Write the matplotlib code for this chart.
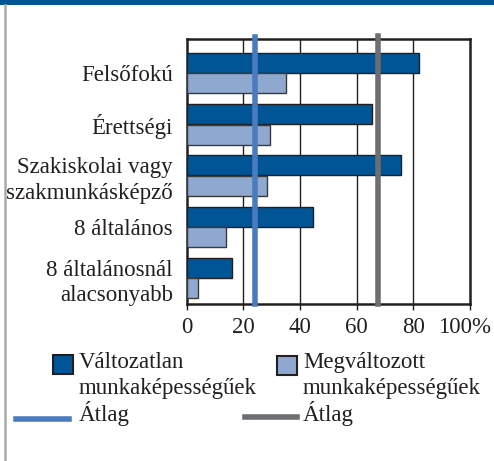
import matplotlib
matplotlib.use('Agg')
import matplotlib.pyplot as plt
from matplotlib.patches import Rectangle
from matplotlib.lines import Line2D
import numpy as np

plt.rcParams['font.family'] = ['Liberation Serif', 'DejaVu Serif']

# Data (percent)
categories = ['Felsőfokú', 'Érettségi', 'Szakiskolai vagy\nszakmunkásképző',
              '8 általános', '8 általánosnál\nalacsonyabb']
valtozatlan = [82, 65.5, 75.5, 44.5, 16]
megvaltozott = [35, 29.5, 28.5, 14, 4]
atlag_valtozatlan = 67.5
atlag_megvaltozott = 24
xticks = [0, 20, 40, 60, 80, 100]
xticklabels = ['0', '20', '40', '60', '80', '100%']

dark = '#005596'
light = '#8fa8cf'
blue_line = '#4a7bbf'
grey_line = '#6d6e71'
txt = '#231f20'

W, H = 494, 461
fs = 16.5
fig = plt.figure(figsize=(W / 100, H / 100), dpi=100)

# frame decorations
fig.add_artist(Rectangle((0, 1 - 5 / H), 1, 5 / H, transform=fig.transFigure,
                         color=dark, lw=0))
fig.add_artist(Line2D([4.5 / W, 4.5 / W], [0, 1 - 5 / H], transform=fig.transFigure,
                      color='#a7a9ac', lw=1.8))

ax = fig.add_axes([186.7 / W, 1 - 304 / H, 283.3 / W, 264.5 / H])
y = np.arange(len(categories))
h = 0.39
ax.barh(y - 0.2, valtozatlan, height=h, color=dark, edgecolor=txt, lw=1, zorder=3)
ax.barh(y + 0.2, megvaltozott, height=h, color=light, edgecolor='#3a3a3a', lw=1, zorder=3)

ax.axvline(atlag_megvaltozott, color=blue_line, lw=4, zorder=4, ymin=0, ymax=1.01,
           clip_on=False)
ax.axvline(atlag_valtozatlan, color=grey_line, lw=4, zorder=4, ymin=0, ymax=1.015,
           clip_on=False)

ax.set_xlim(0, 100)
ax.set_ylim(4.503, -0.653)
ax.set_xticks(xticks)
# last label drawn by hand, nudged left so it stays inside the picture
ax.set_xticklabels(xticklabels[:-1] + [''], fontsize=fs, color=txt)
ax.annotate(xticklabels[-1], xy=(xticks[-1], 0), xycoords=('data', 'axes fraction'),
            xytext=(-4, -9), textcoords='offset points', ha='center', va='top',
            fontsize=fs, color=txt)
ax.set_yticks(y)
ax.set_yticklabels(categories, fontsize=fs, color=txt, linespacing=1.3)
ax.tick_params(axis='y', length=0, pad=10)
ax.tick_params(axis='x', length=4, width=1, color=txt, pad=5)
for g in xticks[1:-1]:
    ax.axvline(g, color=txt, lw=1, zorder=1)
for s in ax.spines.values():
    s.set_linewidth(1.8)
    s.set_color(txt)

# legend
def px(x, yy):
    return x / W, 1 - yy / H

fig.add_artist(Rectangle(px(53, 374), 20 / W, 19 / H, transform=fig.transFigure,
                         facecolor=dark, edgecolor=txt, lw=1.5))
fig.text(*px(79, 368), 'Változatlan', fontsize=fs, va='baseline', color=txt)
fig.text(*px(79, 394), 'munkaképességűek', fontsize=fs, va='baseline', color=txt)
fig.add_artist(Rectangle(px(277, 375), 20 / W, 19 / H, transform=fig.transFigure,
                         facecolor=light, edgecolor=txt, lw=1.5))
fig.text(*px(303, 368), 'Megváltozott', fontsize=fs, va='baseline', color=txt)
fig.text(*px(303, 394), 'munkaképességűek', fontsize=fs, va='baseline', color=txt)
fig.add_artist(Line2D([16 / W, 69 / W], [1 - 419 / H] * 2, transform=fig.transFigure,
                      color=blue_line, lw=4))
fig.text(*px(79, 421), 'Átlag', fontsize=fs, va='baseline', color=txt)
fig.add_artist(Line2D([245 / W, 297 / W], [1 - 417 / H] * 2, transform=fig.transFigure,
                      color=grey_line, lw=4))
fig.text(*px(303, 421), 'Átlag', fontsize=fs, va='baseline', color=txt)

fig.savefig('out.png', dpi=100)
